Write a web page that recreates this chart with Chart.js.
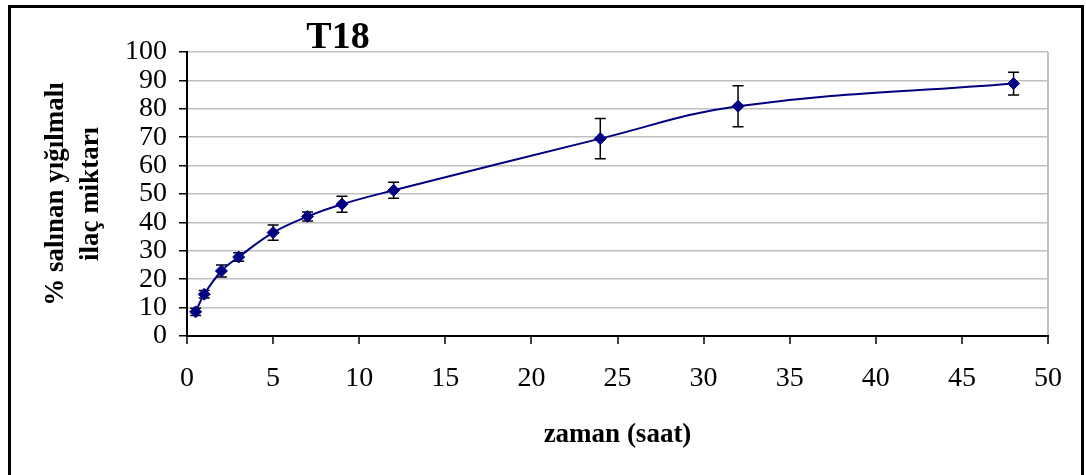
<!DOCTYPE html>
<html>
<head>
<meta charset="utf-8">
<script src="https://cdn.jsdelivr.net/npm/chart.js@4/dist/chart.umd.min.js"></script>
<style>
  html, body { margin: 0; padding: 0; background: #fff; }
  canvas { display: block; }
</style>
</head>
<body>
<canvas id="releaseChart" width="1086" height="475"></canvas>
<script>
// T18 release profile: cumulative % released vs time (hours), with SD bars
var hours = [0.5, 1, 2, 3, 5, 7, 9, 12, 24, 32, 48];
var released = [8.5, 14.7, 22.9, 27.8, 36.4, 42.1, 46.4, 51.3, 69.5, 80.9, 88.9];
var releasedSd = [1.3, 1.3, 2.1, 1.5, 2.7, 1.6, 2.8, 2.8, 7.1, 7.2, 4.0];

var chartTitle = 'T18';
var xTitle = 'zaman (saat)';
var yTitle = ['% salınan yığılmalı', 'ilaç miktarı'];

var serif = '"Liberation Serif", "Times New Roman", serif';
var gridGray = '#c0c0c0';

// black frame round the whole chart plus the bold title
var framePlugin = {
    id: 'frame',
    afterDraw: function(chart) {
        var ctx = chart.ctx;
        ctx.save();
        ctx.strokeStyle = '#000';
        ctx.lineWidth = 3;
        ctx.strokeRect(9.5, 6.5, 1073, 480);
        ctx.fillStyle = '#000';
        ctx.font = 'bold 38px ' + serif;
        ctx.textAlign = 'center';
        ctx.textBaseline = 'alphabetic';
        ctx.fillText(chartTitle, 338, 48);
        ctx.restore();
    }
};

// vertical error bars with caps
var errorBarPlugin = {
    id: 'errorBars',
    beforeDatasetsDraw: function(chart) {
        var ctx = chart.ctx;
        var xs = chart.scales.x;
        var ys = chart.scales.y;
        ctx.save();
        ctx.strokeStyle = '#000';
        ctx.lineWidth = 1.5;
        hours.forEach(function(h, i) {
            var px = xs.getPixelForValue(h);
            var top = ys.getPixelForValue(released[i] + releasedSd[i]);
            var bot = ys.getPixelForValue(released[i] - releasedSd[i]);
            ctx.beginPath();
            ctx.moveTo(px, top);
            ctx.lineTo(px, bot);
            ctx.moveTo(px - 5.5, top);
            ctx.lineTo(px + 5.5, top);
            ctx.moveTo(px - 5.5, bot);
            ctx.lineTo(px + 5.5, bot);
            ctx.stroke();
        });
        ctx.restore();
    }
};

new Chart(document.getElementById('releaseChart'), {
    type: 'line',
    data: {
        datasets: [{
            data: hours.map(function(h, i) { return { x: h, y: released[i] }; }),
            borderColor: '#000080',
            backgroundColor: '#000080',
            borderWidth: 2,
            tension: 0.4,
            pointStyle: 'rectRot',
            pointRadius: 6,
            pointBorderWidth: 1
        }]
    },
    options: {
        responsive: false,
        animation: false,
        devicePixelRatio: 1,
        layout: { padding: { left: 0, right: 38, top: 52, bottom: 0 } },
        plugins: {
            legend: { display: false },
            tooltip: { enabled: false }
        },
        scales: {
            x: {
                type: 'linear',
                min: 0,
                max: 50,
                afterFit: function(scale) { scale.height = 139; },
                ticks: {
                    stepSize: 5,
                    autoSkip: false,
                    maxRotation: 0,
                    color: '#000',
                    padding: 18,
                    font: { family: serif, size: 28 }
                },
                grid: {
                    color: function(c) { return c.tick && c.tick.value === 50 ? gridGray : 'rgba(0,0,0,0)'; },
                    lineWidth: 2,
                    tickColor: '#000',
                    tickLength: 8,
                    tickWidth: 1.5
                },
                border: { color: '#000', width: 2 },
                title: {
                    display: true,
                    text: xTitle,
                    color: '#000',
                    font: { family: serif, size: 27, weight: 'bold' },
                    padding: { top: 0, bottom: 24 }
                }
            },
            y: {
                min: 0,
                max: 100,
                afterFit: function(scale) { scale.width = 187; },
                ticks: {
                    stepSize: 10,
                    autoSkip: false,
                    color: '#000',
                    padding: 12,
                    font: { family: serif, size: 28 }
                },
                grid: {
                    color: gridGray,
                    lineWidth: 1.5,
                    tickColor: '#000',
                    tickLength: 8,
                    tickWidth: 1.5
                },
                border: { color: '#000', width: 2 },
                title: {
                    display: true,
                    text: yTitle,
                    color: '#000',
                    font: { family: serif, size: 27, weight: 'bold', lineHeight: 1.3 },
                    padding: { top: 38, bottom: 0 }
                }
            }
        }
    },
    plugins: [errorBarPlugin, framePlugin]
});
</script>
</body>
</html>
